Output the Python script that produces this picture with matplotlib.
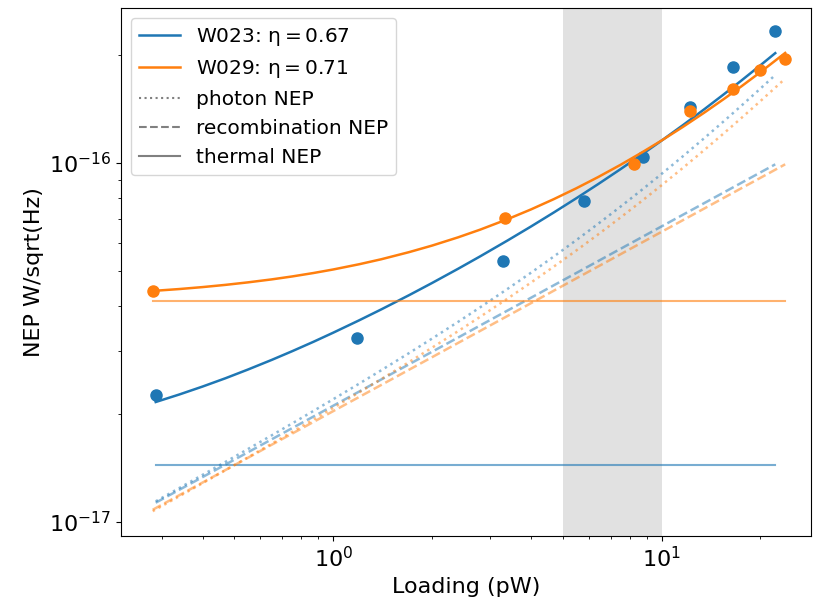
import matplotlib
matplotlib.use("Agg")
import matplotlib.pyplot as plt

# measured points (loading in pW, NEP in W/sqrt(Hz))
w023_loading = [0.288, 1.18, 3.28, 5.79, 8.76, 12.2, 16.5, 22.2]
w023_nep = [2.26e-17, 3.26e-17, 5.34e-17, 7.85e-17, 1.04e-16, 1.43e-16, 1.85e-16, 2.33e-16]
w029_loading = [0.282, 3.33, 8.22, 12.2, 16.5, 20.0, 23.8]
w029_nep = [4.40e-17, 7.04e-17, 9.96e-17, 1.40e-16, 1.61e-16, 1.82e-16, 1.95e-16]

# model curves (NEP in units of 1e-17)
w023_grid = [0.288, 0.34, 0.4, 0.47, 0.55, 0.65, 0.75, 0.87, 1.0, 1.2, 1.4, 1.7, 2.0, 2.4,
             2.8, 3.4, 4.0, 4.7, 5.5, 6.4, 7.5, 8.7, 10, 11.6, 13.5, 15.5, 17.5, 20, 22.2]
w023_fit = [2.157, 2.264, 2.382, 2.513, 2.657, 2.827, 2.989, 3.174, 3.366, 3.645, 3.908,
            4.280, 4.631, 5.073, 5.492, 6.088, 6.653, 7.285, 7.978, 8.729, 9.618, 10.558,
            11.551, 12.745, 14.133, 15.569, 16.985, 18.734, 20.258]
w023_photon = [1.140, 1.242, 1.351, 1.469, 1.595, 1.742, 1.880, 2.036, 2.196, 2.427, 2.644,
               2.951, 3.241, 3.608, 3.959, 4.462, 4.945, 5.491, 6.098, 6.764, 7.561, 8.415,
               9.327, 10.436, 11.740, 13.099, 14.451, 16.131, 17.603]
w023_recomb = [1.130, 1.228, 1.332, 1.444, 1.562, 1.698, 1.824, 1.964, 2.106, 2.307, 2.492,
               2.746, 2.978, 3.262, 3.524, 3.883, 4.211, 4.565, 4.938, 5.327, 5.767, 6.211,
               6.659, 7.172, 7.737, 8.290, 8.809, 9.417, 9.921]
w023_thermal = 1.44

w029_grid = [0.282, 0.34, 0.4, 0.47, 0.55, 0.65, 0.75, 0.87, 1.0, 1.2, 1.4, 1.7, 2.0, 2.4,
             2.8, 3.4, 4.0, 4.7, 5.5, 6.4, 7.5, 8.7, 10, 11.6, 13.5, 15.5, 17.5, 20, 23.8]
w029_fit = [4.401, 4.455, 4.511, 4.576, 4.650, 4.740, 4.830, 4.937, 5.051, 5.224, 5.393,
            5.644, 5.888, 6.208, 6.521, 6.979, 7.425, 7.936, 8.506, 9.135, 9.889, 10.698,
            11.559, 12.605, 13.829, 15.102, 16.364, 17.927, 20.283]
w029_photon = [1.070, 1.178, 1.281, 1.393, 1.512, 1.651, 1.781, 1.927, 2.077, 2.295, 2.498,
               2.786, 3.057, 3.399, 3.725, 4.193, 4.641, 5.146, 5.705, 6.319, 7.052, 7.836,
               8.672, 9.687, 10.878, 12.121, 13.354, 14.886, 17.202]
w029_recomb = [1.080, 1.186, 1.286, 1.394, 1.508, 1.640, 1.761, 1.897, 2.034, 2.228, 2.406,
               2.652, 2.876, 3.151, 3.403, 3.750, 4.067, 4.409, 4.770, 5.145, 5.570, 5.999,
               6.431, 6.927, 7.472, 8.007, 8.508, 9.095, 9.922]
w029_thermal = 4.13

scale = 1e-17

fig = plt.figure(figsize=(8.13, 6.01), dpi=100)
ax = fig.add_axes([0.149, 0.108, 0.849, 0.879])

ax.axvspan(5, 10, color="gray", alpha=0.23, lw=0, zorder=0)

c1 = "#1f77b4"
c2 = "#ff7f0e"

ax.plot(w023_grid, [v * scale for v in w023_fit], color=c1, lw=1.8)
ax.plot(w023_loading, w023_nep, "o", color=c1, ms=8)
ax.plot(w023_grid, [v * scale for v in w023_photon], ":", color=c1, lw=1.8, alpha=0.5)
ax.plot(w023_grid, [v * scale for v in w023_recomb], "--", color=c1, lw=1.8, alpha=0.5)
ax.plot([w023_grid[0], w023_grid[-1]], [w023_thermal * scale] * 2, color=c1, lw=1.5, alpha=0.6)

ax.plot(w029_grid, [v * scale for v in w029_fit], color=c2, lw=1.8)
ax.plot(w029_loading, w029_nep, "o", color=c2, ms=8)
ax.plot(w029_grid, [v * scale for v in w029_photon], ":", color=c2, lw=1.8, alpha=0.5)
ax.plot(w029_grid, [v * scale for v in w029_recomb], "--", color=c2, lw=1.8, alpha=0.5)
ax.plot([w029_grid[0], w029_grid[-1]], [w029_thermal * scale] * 2, color=c2, lw=1.5, alpha=0.6)

# legend proxies
h1, = ax.plot([], [], color=c1, lw=1.8, label=r"W023: $\mathrm{\eta} = 0.67$")
h2, = ax.plot([], [], color=c2, lw=1.8, label=r"W029: $\mathrm{\eta} = 0.71$")
h3, = ax.plot([], [], ":", color="gray", lw=1.5, label="photon NEP")
h4, = ax.plot([], [], "--", color="gray", lw=1.5, label="recombination NEP")
h5, = ax.plot([], [], color="gray", lw=1.5, label="thermal NEP")
ax.legend(handles=[h1, h2, h3, h4, h5], loc="upper left", fontsize=14.5)

ax.set_xscale("log")
ax.set_yscale("log")
ax.set_xlim(0.226, 28.6)
ax.set_ylim(9.12e-18, 2.71e-16)
ax.set_xlabel("Loading (pW)", fontsize=16)
ax.set_ylabel("NEP W/sqrt(Hz)", fontsize=16)
ax.tick_params(labelsize=16)

fig.savefig("out.png", dpi=100)
